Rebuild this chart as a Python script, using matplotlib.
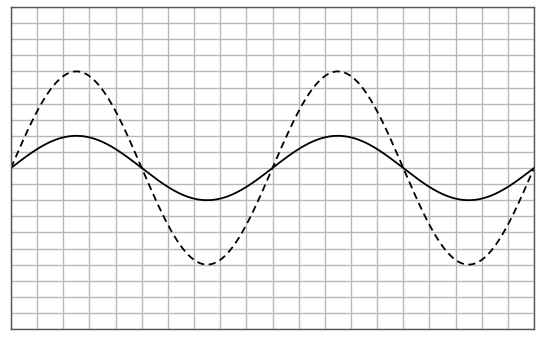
import numpy as np
import matplotlib
matplotlib.use("Agg")
import matplotlib.pyplot as plt

# Wave parameters
amplitudes = [1.0, 3.0]          # solid, dashed
styles = ["-", "--"]
cycles = 2                       # full periods across the plot
x_divisions = 20
y_divisions = 20
y_limit = 5.0

x = np.linspace(0, cycles * 2 * np.pi, 800)

fig = plt.figure(figsize=(5.53, 3.38), dpi=100)
ax = fig.add_axes([11 / 553, 9 / 338, 523 / 553, 322 / 338])

for amp, ls in zip(amplitudes, styles):
    ax.plot(x, amp * np.sin(x), color="black", linestyle=ls, linewidth=1.3,
            dashes=(4, 2.5) if ls == "--" else (None, None))

ax.set_xlim(0, cycles * 2 * np.pi)
ax.set_ylim(-y_limit, y_limit)
ax.set_xticks(np.linspace(0, cycles * 2 * np.pi, x_divisions + 1))
ax.set_yticks(np.linspace(-y_limit, y_limit, y_divisions + 1))
ax.grid(True, color="#b8b8b8", linewidth=1.0)
ax.tick_params(length=0, labelbottom=False, labelleft=False)
for s in ax.spines.values():
    s.set_color("#555555")
    s.set_linewidth(1.0)

fig.savefig("out.png", dpi=100)
